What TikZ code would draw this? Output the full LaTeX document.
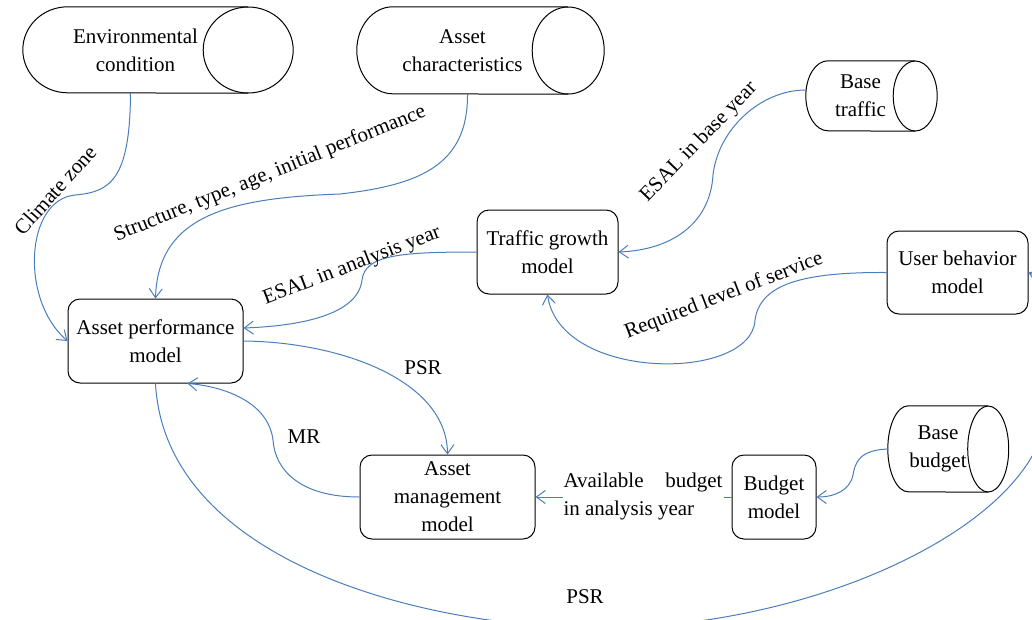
\documentclass[tikz,border=0pt]{standalone}
\usepackage{fontspec}
\setmainfont{Liberation Serif}
\usetikzlibrary{arrows.meta}
\definecolor{linkblue}{HTML}{4A7EBB}

% outline of a lying tank: node spans from the round left end to the centre of the right face
\newcommand\drawtank[3]{%
  \draw[line width=1pt] (#1.north east) -- ([xshift=#2pt]#1.north west)
    arc[start angle=90,end angle=270,x radius=#2pt,y radius=#3pt] -- (#1.south east);
  \draw[line width=1pt] (#1.east) ellipse[x radius=#2pt,y radius=#3pt];}

\begin{document}
\begin{tikzpicture}[x=1pt,y=1pt,
 font=\fontsize{21}{28}\selectfont,
 box/.style={draw,line width=1pt,rounded corners=12pt,align=center,inner sep=2pt},
 tank/.style={align=center,inner sep=2pt},
 link/.style={draw=linkblue,line width=1pt,-{Straight Barb[length=9pt,width=13pt]}},
 lbl/.style={inner sep=1pt}
]
\useasboundingbox (0,0) rectangle (1032,-619);
\clip (0,0) rectangle (1032,-619);

% data sources
\node[tank,minimum width=225,minimum height=86] (env) at (135.5,-50) {Environmental\\condition};
\node[tank,minimum width=211,minimum height=87] (achar) at (462.5,-50.5) {Asset\\characteristics};
\node[tank,minimum width=109,minimum height=70] (btraffic) at (860.5,-96) {Base\\traffic};
\node[tank,minimum width=100,minimum height=86] (bbudget) at (938,-449) {Base\\budget};
\drawtank{env}{45}{43}
\drawtank{achar}{36}{43.5}
\drawtank{btraffic}{22}{35}
\drawtank{bbudget}{20.5}{43}

% models
\node[box,minimum width=141,minimum height=84] (tgm) at (547.5,-252) {Traffic growth\\model};
\node[box,minimum width=141,minimum height=83] (ubm) at (957.5,-272.5) {User behavior\\model};
\node[box,minimum width=175,minimum height=84] (apm) at (155.5,-341) {Asset performance\\model};
\node[box,minimum width=175,minimum height=84] (amm) at (447.5,-497) {Asset\\management\\model};
\node[box,minimum width=84,minimum height=84] (bm) at (774,-497) {Budget\\model};

% links
\draw[link] ([xshift=-5pt]env.south) .. controls (130,-180) and (110,-192) .. (75,-195)
  .. controls (25,-200) and (20,-300) .. (apm.west);
\draw[link] ([xshift=5pt]achar.south) .. controls (468,-165) and (420,-185) .. (340,-194)
  .. controls (230,-198) and (158,-215) .. (apm.north);
\draw[link] (tgm.west) .. controls (400,-252) and (365,-255) .. (362,-280)
  .. controls (358,-315) and (300,-326) .. ([yshift=13pt]apm.east);
\draw[link] ([yshift=6pt]btraffic.west) .. controls (760,-90) and (718,-130) .. (713,-175)
  .. controls (710,-225) and (670,-250) .. (tgm.east);
\draw[link] (ubm.west) .. controls (800,-272) and (760,-285) .. (755,-320)
  .. controls (752,-382) and (560,-382) .. (tgm.south);
\draw[link] (apm.east) .. controls (340,-342) and (447,-380) .. (amm.north);
\draw[link] (amm.west) .. controls (300,-497) and (275,-470) .. (273,-440)
  .. controls (268,-400) and (220,-386) .. ([xshift=32pt]apm.south);
\draw[link] (apm.south) .. controls (165,-560) and (420,-628) .. (600,-628)
  .. controls (800,-628) and (1000,-540) .. (1040,-440)
  .. controls (1065,-370) and (1060,-285) .. (ubm.east);
\draw[link] (bm.west) -- (amm.east);
\draw[link] (bbudget.west) .. controls (860,-450) and (855,-462) .. (853,-475)
  .. controls (850,-490) and (835,-497) .. (bm.east);

% labels
\node[lbl,rotate=48] (climate) at (55,-190) {Climate zone};
\node[lbl,rotate=22] (struct) at (270,-174) {Structure, type,\ age,\ initial\ performance};
\node[lbl,rotate=21] (esalana) at (352,-266) {ESAL in analysis\ year};
\node[lbl,rotate=46] (esalbase) at (699,-142) {ESAL in base year};
\node[lbl,rotate=21] (los) at (724,-296) {Required level\ of service};
\node[lbl] (psrtop) at (423,-368) {PSR};
\node[lbl] (mr) at (304,-437) {MR};
\node[lbl,fill=white,align=left] (avail) at (643,-496) {\hbox to 159pt{Available\hfill budget}\\in analysis\ year};
\node[lbl] (psrbot) at (585,-597) {PSR};
\end{tikzpicture}
\end{document}
